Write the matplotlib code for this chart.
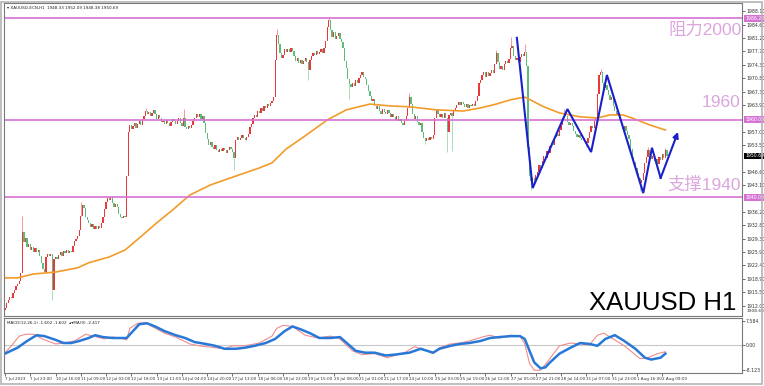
import matplotlib.pyplot as plt
from matplotlib.patches import Rectangle

# hourly closes, XAUUSD H1, 7 Jul - 2 Aug 2023
closes = [
    1911.5, 1912.8, 1913.5, 1914.2, 1914.0, 1915.3, 1916.0, 1917.2, 1917.7, 1918.4, 1920.5, 1931.0, 1928.5, 1929.4, 1927.2, 1928.0, 1926.5, 1927.3, 1926.0, 1926.8,
    1925.8, 1926.4, 1924.9, 1923.0, 1921.5, 1920.8, 1924.5, 1925.4, 1924.8, 1925.3, 1916.0, 1924.0, 1924.7, 1924.0, 1925.2, 1925.8, 1924.9, 1926.1, 1925.6, 1926.3,
    1925.7, 1926.2, 1926.0, 1927.4, 1928.6, 1929.2, 1930.0, 1931.5, 1935.2, 1938.0, 1937.2, 1935.0, 1934.1, 1933.5, 1932.4, 1933.0, 1931.8, 1932.5, 1931.9, 1932.6,
    1932.2, 1933.4, 1934.8, 1937.0, 1938.9, 1939.8, 1939.2, 1940.0, 1938.5, 1937.6, 1938.3, 1937.4, 1935.6, 1935.0, 1934.6, 1935.3, 1934.8, 1945.5, 1956.8, 1958.7,
    1957.6, 1958.4, 1959.2, 1958.0, 1958.9, 1959.6, 1958.8, 1960.2, 1961.0, 1962.4, 1961.6, 1962.0, 1960.9, 1961.8, 1962.5, 1961.4, 1960.3, 1961.2, 1960.5, 1959.4,
    1959.8, 1959.0, 1960.1, 1959.3, 1958.4, 1959.5, 1960.3, 1959.6, 1958.9, 1959.7, 1960.4, 1959.1, 1958.5, 1960.6, 1958.2, 1957.6, 1958.3, 1957.9, 1958.7, 1959.8,
    1960.6, 1961.4, 1960.8, 1961.5, 1960.2, 1961.0, 1959.2, 1956.5, 1955.0, 1953.4, 1954.2, 1953.0, 1952.6, 1953.5, 1952.1, 1951.6, 1952.4, 1951.9, 1952.8, 1952.2,
    1951.5, 1952.3, 1953.1, 1952.5, 1951.8, 1950.2, 1954.8, 1955.6, 1954.9, 1955.4, 1956.0, 1955.2, 1954.7, 1955.5, 1956.4, 1958.2, 1959.0, 1960.4, 1961.2, 1960.7,
    1962.3, 1961.8, 1963.0, 1962.4, 1963.5, 1963.1, 1964.0, 1963.6, 1964.4, 1964.9, 1966.0, 1975.5, 1982.0, 1979.5, 1977.2, 1976.0, 1976.8, 1978.3, 1977.5, 1978.4,
    1977.6, 1978.5, 1977.9, 1976.4, 1975.2, 1976.0, 1974.8, 1975.6, 1974.5, 1975.3, 1976.1, 1974.9, 1972.8, 1975.5, 1976.6, 1977.4, 1976.8, 1977.8, 1976.9, 1977.6,
    1978.2, 1977.4, 1978.6, 1980.5, 1984.0, 1985.8, 1983.2, 1981.5, 1982.6, 1980.8, 1981.7, 1982.4, 1981.0, 1980.2, 1978.6, 1975.2, 1973.4, 1970.6, 1969.2, 1968.5,
    1969.6, 1968.8, 1970.2, 1969.5, 1970.9, 1971.6, 1972.4, 1971.2, 1970.5, 1969.0, 1967.4, 1966.2, 1964.8, 1965.4, 1963.6, 1962.8, 1963.5, 1962.2, 1961.5, 1962.9,
    1962.1, 1961.4, 1962.6, 1961.7, 1960.8, 1961.6, 1960.7, 1960.1, 1960.9, 1959.6, 1960.3, 1959.3, 1958.8, 1959.7, 1961.0, 1963.2, 1966.0, 1964.2, 1961.5, 1960.2,
    1960.9, 1959.4, 1958.6, 1959.2, 1957.0, 1955.4, 1954.6, 1955.3, 1954.8, 1955.6, 1955.1, 1956.0, 1960.4, 1962.5, 1961.6, 1960.8, 1961.5, 1960.6, 1961.8, 1960.4,
    1957.0, 1961.2, 1961.9, 1961.0, 1962.2, 1963.0, 1963.8, 1964.5, 1963.9, 1964.6, 1964.1, 1963.4, 1964.0, 1963.2, 1963.9, 1963.5, 1964.2, 1963.6, 1964.8, 1966.2,
    1969.5, 1970.4, 1971.6, 1972.3, 1971.0, 1972.5, 1971.4, 1972.2, 1973.0, 1972.1, 1974.5, 1977.2, 1975.0, 1973.2, 1973.8, 1972.9, 1974.4, 1975.3, 1974.6, 1975.8,
    1978.6, 1979.2, 1976.4, 1975.4, 1975.9, 1975.0, 1976.3, 1977.1, 1976.5, 1977.6, 1974.0, 1953.0, 1945.4, 1944.2, 1945.1, 1944.0, 1945.8, 1946.6, 1948.4, 1947.6,
    1949.5, 1950.8, 1950.2, 1952.0, 1951.4, 1953.2, 1954.1, 1953.5, 1955.6, 1956.3, 1955.8, 1957.5, 1958.8, 1960.4, 1961.6, 1960.9, 1959.5, 1958.6, 1959.1, 1958.3,
    1957.2, 1956.4, 1955.6, 1956.2, 1955.3, 1954.7, 1955.4, 1954.6, 1954.0, 1955.2, 1956.9, 1958.4, 1958.0, 1959.6, 1960.5, 1966.8, 1971.7, 1972.4, 1969.5, 1968.2,
    1968.9, 1967.6, 1966.4, 1965.2, 1965.8, 1963.6, 1962.4, 1961.3, 1961.9, 1960.2, 1959.0, 1957.6, 1958.3, 1957.2, 1956.1, 1955.0, 1952.4, 1950.3, 1949.1, 1947.6,
    1946.2, 1945.0, 1943.8, 1944.5, 1946.2, 1948.8, 1950.4, 1952.1, 1951.0, 1949.8, 1950.6, 1949.4, 1949.9, 1948.7, 1950.5, 1949.6, 1951.2, 1950.2, 1952.1, 1950.69,
]
first_open = 1911.0

# visible long wicks
hi_bar = [11, 48, 89, 113, 172, 205, 256, 311, 320, 329, 354, 377, 407, 418]
hi_val = [1935.2, 1938.8, 1963.0, 1962.7, 1983.6, 1986.6, 1967.0, 1978.0, 1981.5, 1979.6, 1962.8, 1973.2, 1953.0, 1952.8]
lo_bar = [30, 145, 192, 218, 266, 280, 283, 333, 368, 402, 413]
lo_val = [1913.5, 1947.0, 1970.2, 1965.3, 1953.8, 1951.8, 1952.0, 1941.8, 1953.0, 1941.6, 1947.8]

# orange moving average
ma_bar = [0, 8, 18, 32, 46, 53, 66, 76, 85, 96, 106, 117, 130, 144, 161, 169, 178, 189, 204, 216,
          231, 244, 256, 273, 290, 301, 311, 320, 329, 341, 351, 364, 375, 383, 391, 397, 408, 418]
ma_val = [1919.2, 1919.2, 1920.2, 1920.7, 1921.8, 1923.1, 1924.6, 1926.4, 1929.5, 1933.4, 1936.7, 1940.6,
          1943.2, 1945.2, 1947.6, 1948.9, 1952.5, 1955.6, 1960.0, 1962.6, 1964.1, 1963.6, 1963.4, 1962.6,
          1962.3, 1963.1, 1964.1, 1965.2, 1965.9, 1963.4, 1961.8, 1960.8, 1960.5, 1961.3, 1961.3, 1960.5,
          1958.7, 1957.4]

# hand drawn blue zigzag
zig_bar = [324, 334, 356, 371, 381, 404, 409.5, 415, 426]
zig_val = [1981.2, 1942.4, 1962.8, 1951.7, 1971.6, 1941.1, 1952.8, 1945.0, 1956.9]

# horizontal levels
res_level = 1986.2
mid_level = 1960.0
sup_level = 1940.0
last_price = 1950.69

price_ticks = [1912.00, 1915.50, 1918.90, 1922.40, 1925.90, 1929.30, 1932.80, 1936.20, 1943.10,
               1946.60, 1953.50, 1957.00, 1963.90, 1967.30, 1970.80, 1974.30, 1977.70, 1981.20,
               1984.60, 1988.10]

# MACD window
macd_bar = [0, 8, 14, 20, 25, 32, 37, 42, 47, 53, 57, 62, 68, 73, 77, 81, 85, 90, 95, 101, 108, 114,
            120, 127, 133, 139, 146, 152, 158, 165, 171, 177, 182, 187, 193, 199, 206, 212, 217, 222,
            228, 234, 241, 247, 256, 263, 271, 275, 282, 288, 294, 301, 307, 313, 320, 326, 329, 332,
            335, 339, 342, 345, 351, 358, 364, 370, 375, 380, 386, 392, 399, 405, 409, 415, 418]
macd_val = [-2.8, -0.9, 1.25, 3.1, 2.8, 1.6, 0.6, 0.6, 1.25, 2.2, 3.1, 2.5, 2.2, 2.2, 2.2, 4.4, 6.6,
            6.9, 5.9, 4.4, 3.1, 2.2, 0.9, 0.3, -0.3, -1.25, -1.25, -0.9, -0.3, 0.6, 1.9, 4.4, 5.9, 5.0,
            3.75, 2.2, 2.2, 2.5, 0.3, -1.9, -2.5, -2.5, -3.4, -3.1, -2.5, -1.25, -2.5, -1.25, -0.3,
            0.3, 0.6, 1.25, 2.2, 2.5, 2.8, 2.8, 1.9, -1.9, -5.6, -7.5, -7.2, -5.6, -2.8, -0.9, 0.6,
            0.3, -0.3, 1.9, 3.1, 1.25, -1.25, -4.1, -4.7, -4.1, -2.8]
sig_bar = [0, 3, 9, 13, 18, 25, 32, 38, 44, 51, 56, 63, 68, 73, 77, 79, 84, 89, 93, 101, 108, 117,
           123, 133, 139, 144, 152, 161, 169, 172, 176, 182, 190, 198, 206, 212, 220, 226, 234, 242,
           253, 259, 266, 271, 275, 282, 288, 294, 302, 307, 313, 320, 326, 329, 332, 335, 339, 344,
           351, 358, 364, 370, 375, 379, 384, 392, 402, 407, 413, 418]
sig_val = [-2.5, -0.9, 2.8, 3.4, 3.4, 1.6, 0.3, 0.6, 1.25, 3.4, 2.8, 1.9, 2.5, 2.2, 1.6, 5.3, 6.9,
           7.2, 5.9, 3.75, 2.5, 0.3, -0.3, -0.9, -1.25, -0.3, -0.3, 0.6, 2.8, 5.3, 6.25, 5.9, 3.1,
           2.2, 2.8, 1.9, -1.9, -3.1, -2.8, -4.1, -2.5, -0.6, -1.6, -2.8, -0.9, 0.3, 0.6, 1.25, 2.5,
           3.1, 2.2, 3.1, 2.8, 0.3, -5.9, -8.1, -8.1, -5.0, -0.3, 0.6, 0.3, 0.0, 3.1, 3.75, 2.2,
           -0.3, -4.4, -4.1, -2.8, -2.2]
macd_ticks = [7.584, 0.0, -8.123]
macd_labels = ["7.584", "0.00", "-8.123"]

date_labels = ["7 Jul 2023", "7 Jul 23:00", "10 Jul 16:00", "11 Jul 09:00", "12 Jul 02:00",
               "12 Jul 18:00", "13 Jul 11:00", "14 Jul 04:00", "14 Jul 20:00", "17 Jul 13:00",
               "18 Jul 06:00", "18 Jul 22:00", "19 Jul 15:00", "20 Jul 08:00", "21 Jul 01:00",
               "21 Jul 17:00", "24 Jul 10:00", "25 Jul 03:00", "25 Jul 19:00", "26 Jul 12:00",
               "27 Jul 05:00", "27 Jul 21:00", "28 Jul 14:00", "31 Jul 07:00", "31 Jul 23:00",
               "1 Aug 16:00", "2 Aug 09:00"]
date_step = 16

W, H = 764, 386
fig = plt.figure(figsize=(W / 100, H / 100), dpi=100)
fig.patch.set_facecolor('white')
fig.patches.append(Rectangle((1 / W, 2 / H), 761 / W, 382 / H, transform=fig.transFigure,
                             fill=False, ec='#b4b4b4', lw=1.2))

ax = fig.add_axes([4 / W, 1 - 316 / H, 738 / W, 313 / H])
ax2 = fig.add_axes([4 / W, 1 - 373 / H, 738 / W, 55 / H], sharex=ax)

red = '#e8383a'
green = '#5cbd78'
pink = '#d672d6'
pink_txt = '#dba6dd'

# candles
opens = [first_open] + closes[:-1]
for i in range(len(closes)):
    o, c = opens[i], closes[i]
    col = red if c >= o else green
    h = abs(c - o)
    if h < 0.2:
        h = 0.2
    ax.bar(i, h, bottom=min(o, c), width=0.8, color=col, lw=0)
for b, v in zip(hi_bar, hi_val):
    col = red if closes[b] >= opens[b] else green
    ax.vlines(b, max(opens[b], closes[b]), v, color=col, lw=0.6, alpha=0.6)
for b, v in zip(lo_bar, lo_val):
    col = red if closes[b] >= opens[b] else green
    ax.vlines(b, v, min(opens[b], closes[b]), color=col, lw=0.6, alpha=0.6)

ax.plot(ma_bar, ma_val, color='#f29b2a', lw=1.2)

for lv in [res_level, mid_level, sup_level]:
    ax.axhline(lv, color=pink, lw=1.2)

ax.plot(zig_bar[:-1], zig_val[:-1], color='#1a1fcc', lw=1.5, solid_joinstyle='miter')
ax.annotate('', xy=(zig_bar[-1], zig_val[-1]), xytext=(zig_bar[-2], zig_val[-2]),
            arrowprops=dict(arrowstyle='-|>', color='#1a1fcc', lw=1.5, mutation_scale=8,
                            shrinkA=0, shrinkB=0))

cjk = ['Liberation Sans', 'Noto Sans CJK SC']
tr = ax.get_yaxis_transform()
ax.text(0.999, 1983.3, '阻力2000', transform=tr, ha='right', va='center', fontsize=12.5,
        color=pink_txt, family=cjk)
ax.text(0.998, 1964.4, '1960', transform=tr, ha='right', va='center', fontsize=12.5,
        color=pink_txt, family=cjk)
ax.text(0.998, 1943.2, '支撑1940', transform=tr, ha='right', va='center', fontsize=12.5,
        color=pink_txt, family=cjk)
ax.text(0.993, 1912.7, 'XAUUSD H1', transform=tr, ha='right', va='center', fontsize=18.5,
        color='black', family=cjk)

ax.text(0.004, 0.992, '\u25be XAUUSD-ECN,H1  1948.33 1952.09 1948.38 1950.69', transform=ax.transAxes,
        ha='left', va='top', fontsize=3, color='#222222')

ax.set_xlim(-0.63, 466.5)
ax.set_ylim(1909.35, 1990.2)
ax.yaxis.tick_right()
ax.set_yticks(price_ticks)
ax.set_yticklabels(['%.2f' % v for v in price_ticks])
ax.tick_params(axis='y', labelsize=3.3, length=2, width=0.5, pad=1, colors='#333333')
ax.tick_params(axis='x', bottom=False, labelbottom=False)

box_labels = [(res_level, '1986.20', pink), (mid_level, '1960.00', pink),
              (sup_level, '1940.00', pink), (last_price, '1950.69', 'black')]
for v, s, c in box_labels:
    ax.text(1.004, v, s, transform=tr, ha='left', va='center', fontsize=3.3, color='white',
            bbox=dict(boxstyle='square,pad=0.2', fc=c, ec='none'))
ax.text(1.006, 1910.1, '1908.60', transform=tr, ha='left', va='bottom', fontsize=3.2,
        color='#333333')

# MACD window
ax2.axhline(0, color='#c8c8c8', lw=0.8)
ax2.plot(sig_bar, sig_val, color='#f28b8b', lw=0.8)
ax2.plot(macd_bar, macd_val, color='#2878d8', lw=1.8)
ax2.set_ylim(-9.0, 8.6)
ax2.yaxis.tick_right()
ax2.set_yticks(macd_ticks)
ax2.set_yticklabels(macd_labels)
ax2.tick_params(axis='y', labelsize=3.3, length=2, width=0.5, pad=1, colors='#333333')
ax2.set_xticks([i * date_step for i in range(len(date_labels))])
ax2.set_xticklabels(date_labels, ha='left')
ax2.tick_params(axis='x', labelsize=3, length=2, width=0.5, pad=1, colors='#333333')
ax2.text(0.004, 0.95, 'MACD(12,26,1) -1.602 -1.602  \u25b4\u25beMA(9) -2.417', transform=ax2.transAxes,
         ha='left', va='top', fontsize=3, color='#222222')

for a in [ax, ax2]:
    for sp in a.spines.values():
        sp.set_color('#7a7a7a')
        sp.set_linewidth(0.8)

fig.savefig('out.png', dpi=100, facecolor='white')
